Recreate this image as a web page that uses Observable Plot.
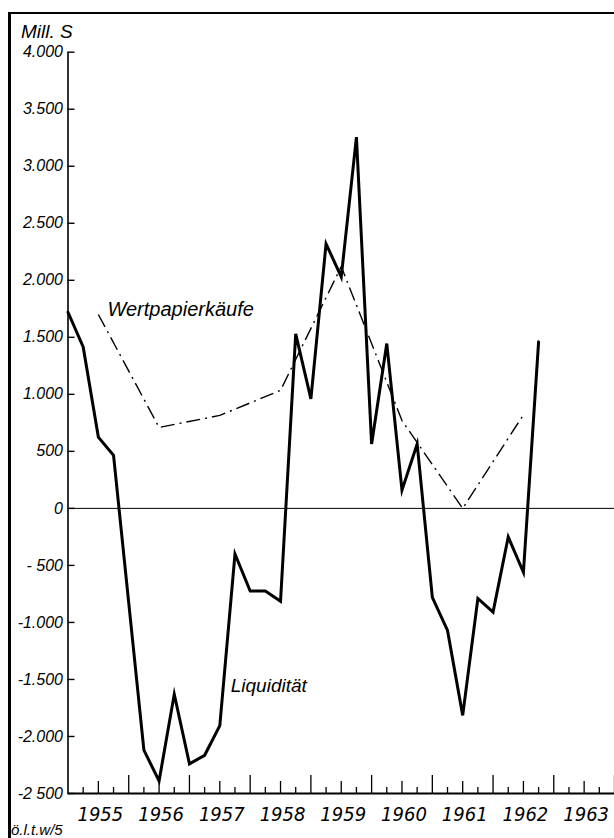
<!DOCTYPE html>
<html><head><meta charset="utf-8">
<script src="https://cdn.jsdelivr.net/npm/d3@7"></script>
<script src="https://cdn.jsdelivr.net/npm/@observablehq/plot@0.6"></script>
<style>
html,body{margin:0;padding:0;background:#fff;}
#wrap{position:relative;width:614px;height:838px;overflow:hidden;}
#wrap svg{position:absolute;left:0;top:0;}
#border{position:absolute;left:8px;top:12px;width:640px;height:860px;border-left:3px solid #000;border-top:2px solid #000;pointer-events:none;}
</style></head><body>
<div id="wrap"><div id="border"></div></div>
<script>
// Liquidität (quarterly, Mill. S)
const liqDates = [1955.00, 1955.25, 1955.50, 1955.75, 1956.25, 1956.50, 1956.75, 1957.00,
  1957.25, 1957.50, 1957.75, 1958.00, 1958.25, 1958.50, 1958.75, 1959.00, 1959.25, 1959.50,
  1959.75, 1960.00, 1960.25, 1960.50, 1960.75, 1961.00, 1961.25, 1961.50, 1961.75, 1962.00,
  1962.25, 1962.50, 1962.75];
const liqValues = [1720, 1415, 625, 465, -2120, -2390, -1630, -2240,
  -2165, -1905, -400, -725, -725, -815, 1530, 960, 2320, 2030,
  3255, 565, 1445, 160, 565, -780, -1070, -1815, -790, -910,
  -250, -560, 1460];
// Wertpapierkäufe (annual, plotted mid-year)
const wpDates = [1955.5, 1956.5, 1957.5, 1958.5, 1959.5, 1960.5, 1961.5, 1962.5];
const wpValues = [1700, 710, 815, 1035, 2120, 770, 0, 820];

const yTicks = [4000, 3500, 3000, 2500, 2000, 1500, 1000, 500, 0, -500, -1000, -1500, -2000, -2500];
const yTickLabels = ["4.000", "3.500", "3.000", "2.500", "2.000", "1.500", "1.000", "500", "0",
  "- 500", "-1.000", "-1.500", "-2.000", "-2 500"];
const years = [1955, 1956, 1957, 1958, 1959, 1960, 1961, 1962, 1963];
const yearLabels = ["1955", "1956", "1957", "1958", "1959", "1960", "1961", "1962", "1963"];
const unitLabel = "Mill. S";
const sourceLabel = "ö.l.t.w/5";
const seriesNames = ["Wertpapierkäufe", "Liquidität"];

const liq = liqDates.map((d, i) => ({date: d, value: liqValues[i]}));
const wp = wpDates.map((d, i) => ({date: d, value: wpValues[i]}));
const xMin = 1955, xMax = 1964, yMin = -2500, yMax = 4000;
const quarterTicks = d3.range(1, (xMax - xMin) * 4 + 1).map(k => xMin + k / 4);
const pxPerUnitY = (838 - 51.7 - 45) / (yMax - yMin);
const tickLen = d => (Number.isInteger(d) ? 18 : (Math.abs(d % 1 - 0.5) < 1e-6 ? 12 : 6)) / pxPerUnitY;
const yTickLen = 7 / ((614 - 67.5) / (xMax - xMin));

const font = "'Liberation Sans', Arial, sans-serif";
const narrow = "'Liberation Sans Narrow', 'DejaVu Sans Condensed', 'Liberation Sans', sans-serif";

const chart = Plot.plot({
  width: 614, height: 838,
  marginLeft: 67.5, marginRight: 0, marginTop: 51.7, marginBottom: 45,
  style: {fontFamily: font, background: "transparent", overflow: "visible"},
  x: {domain: [xMin, xMax], axis: null},
  y: {domain: [yMin, yMax], axis: null},
  marks: [
    Plot.ruleY([0], {stroke: "#000", strokeWidth: 1}),
    Plot.ruleX([xMin], {y1: yMin, y2: yMax, stroke: "#000", strokeWidth: 1.6}),
    Plot.ruleY([yMin], {x1: xMin, x2: xMax, stroke: "#000", strokeWidth: 2.2}),
    Plot.ruleY(yTicks, {y: d => d, x1: xMin, x2: xMin + yTickLen, stroke: "#000", strokeWidth: 1.4}),
    Plot.ruleX(quarterTicks, {x: d => d, y1: yMin, y2: d => yMin + tickLen(d), stroke: "#000", strokeWidth: 1.3}),
    Plot.text(yTicks, {x: xMin, y: d => d, text: (d, i) => yTickLabels[i], textAnchor: "end", dx: -5,
      fontSize: 16, fontStyle: "italic", fill: "#000"}),
    Plot.text(years, {x: d => d + 0.5, y: yMin, text: (d, i) => yearLabels[i], dy: 21, dx: 2,
      fontSize: 20, fontStyle: "italic", fontFamily: narrow, fill: "#000"}),
    Plot.line(wp, {x: "date", y: "value", stroke: "#000", strokeWidth: 1.4,
      strokeDasharray: "14,5,2,5", strokeLinejoin: "miter", strokeLinecap: "butt"}),
    Plot.line(liq, {x: "date", y: "value", stroke: "#000", strokeWidth: 3,
      strokeLinejoin: "miter", strokeMiterlimit: 6}),
    Plot.text([seriesNames[0]], {x: 1955.65, y: 1740, text: d => d, textAnchor: "start",
      fontSize: 20, fontStyle: "italic", fill: "#000"}),
    Plot.text([seriesNames[1]], {x: 1957.68, y: -1560, text: d => d, textAnchor: "start",
      fontSize: 19, fontStyle: "italic", fill: "#000"}),
    Plot.text([unitLabel], {frameAnchor: "top-left", dx: -47, dy: -20, lineAnchor: "middle", text: d => d,
      textAnchor: "start", fontSize: 19, fontStyle: "italic", fill: "#000"}),
    Plot.text([sourceLabel], {frameAnchor: "bottom-left", dx: -57, dy: 37, lineAnchor: "middle", text: d => d,
      textAnchor: "start", fontSize: 15, fontStyle: "italic", fill: "#000"})
  ]
});
document.getElementById("wrap").insertBefore(chart, document.getElementById("border"));
</script>
</body></html>
